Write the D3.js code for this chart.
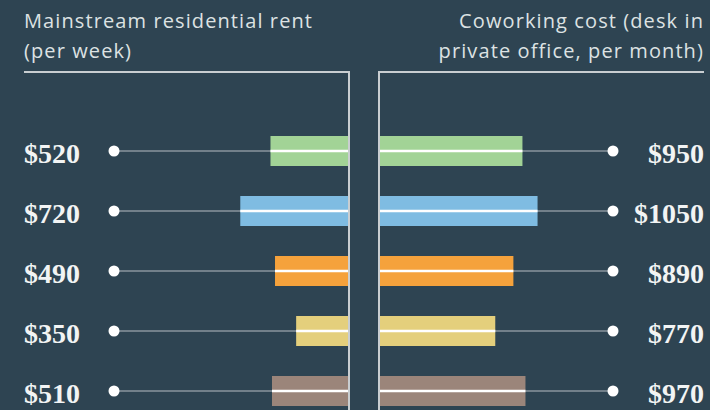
<!DOCTYPE html>
<html><head><meta charset="utf-8">
<script src="https://cdn.jsdelivr.net/npm/d3@7"></script>
<style>
html,body{margin:0;padding:0;background:#2e4452;}
svg{display:block;}
</style></head>
<body>
<svg id="chart" width="710" height="410"></svg>
<script>
const categories = ["Row 1","Row 2","Row 3","Row 4","Row 5"];
const rentValues = [520, 720, 490, 350, 510];
const coworkValues = [950, 1050, 890, 770, 970];
const barColors = ["#a2d396","#7fbce2","#f5a23c","#e4cf7c","#9b857a"];
const leftTitle = ["Mainstream residential rent","(per week)"];
const rightTitle = ["Coworking cost (desk in","private office, per month)"];

const W = 710, H = 410;
const svg = d3.select("#chart");
svg.append("rect").attr("width",W).attr("height",H).attr("fill","#2e4452");

const leftAxisX = 349, rightAxisX = 379;
const y = d3.scalePoint().domain(categories).range([151, 391]);
const len = d3.scaleLinear().domain([0, 1000]).range([0, 151]);
const barH = 30;
const textColor = "#dde2e3";
const lineColor = "#c9ced1";
const fmt = v => "$" + v;

// titles
const tFont = "'Open Sans', sans-serif";
svg.append("g").selectAll("text").data(leftTitle).join("text")
  .attr("x", 24).attr("y", (d,i)=> 28 + i*30)
  .attr("fill", textColor).attr("font-family", tFont).attr("font-size", 20)
  .attr("letter-spacing", 1.1)
  .text(d=>d);
svg.append("g").selectAll("text").data(rightTitle).join("text")
  .attr("x", 704).attr("y", (d,i)=> 28 + i*30).attr("text-anchor","end")
  .attr("fill", textColor).attr("font-family", tFont).attr("font-size", 20)
  .attr("letter-spacing", 1.1)
  .text(d=>d);

// brackets
svg.append("path").attr("d", `M24,72H${leftAxisX}V${H}`)
  .attr("fill","none").attr("stroke",lineColor).attr("stroke-width",2);
svg.append("path").attr("d", `M704,72H${rightAxisX}V${H}`)
  .attr("fill","none").attr("stroke",lineColor).attr("stroke-width",2);

const rows = categories.map((c,i)=>({c, rent: rentValues[i], cw: coworkValues[i], color: barColors[i]}));
const g = svg.append("g");

// connector thin lines
g.selectAll("line.lconn").data(rows).join("line").attr("class","lconn")
  .attr("x1",114).attr("x2",leftAxisX).attr("y1",d=>y(d.c)).attr("y2",d=>y(d.c))
  .attr("stroke","#ffffff").attr("stroke-opacity",0.65).attr("stroke-width",1.1);
g.selectAll("line.rconn").data(rows).join("line").attr("class","rconn")
  .attr("x1",rightAxisX).attr("x2",613).attr("y1",d=>y(d.c)).attr("y2",d=>y(d.c))
  .attr("stroke","#ffffff").attr("stroke-opacity",0.65).attr("stroke-width",1.1);

// bars
g.selectAll("rect.lbar").data(rows).join("rect").attr("class","lbar")
  .attr("x",d=>leftAxisX - len(d.rent)).attr("width",d=>len(d.rent))
  .attr("y",d=>y(d.c)-barH/2).attr("height",barH).attr("fill",d=>d.color);
g.selectAll("rect.rbar").data(rows).join("rect").attr("class","rbar")
  .attr("x",rightAxisX).attr("width",d=>len(d.cw))
  .attr("y",d=>y(d.c)-barH/2).attr("height",barH).attr("fill",d=>d.color);

// white lines inside bars
g.selectAll("line.lin").data(rows).join("line").attr("class","lin")
  .attr("x1",d=>leftAxisX - len(d.rent)).attr("x2",leftAxisX)
  .attr("y1",d=>y(d.c)).attr("y2",d=>y(d.c))
  .attr("stroke","#ffffff").attr("stroke-width",2.5);
g.selectAll("line.rin").data(rows).join("line").attr("class","rin")
  .attr("x1",rightAxisX).attr("x2",d=>rightAxisX + len(d.cw))
  .attr("y1",d=>y(d.c)).attr("y2",d=>y(d.c))
  .attr("stroke","#ffffff").attr("stroke-width",2.5);

// dots
g.selectAll("circle.ld").data(rows).join("circle").attr("class","ld")
  .attr("cx",114).attr("cy",d=>y(d.c)).attr("r",5.5).attr("fill","#ffffff");
g.selectAll("circle.rd").data(rows).join("circle").attr("class","rd")
  .attr("cx",613).attr("cy",d=>y(d.c)).attr("r",5.5).attr("fill","#ffffff");

// axis lines on top
svg.append("line").attr("x1",leftAxisX).attr("x2",leftAxisX).attr("y1",72).attr("y2",H)
  .attr("stroke",lineColor).attr("stroke-width",2);
svg.append("line").attr("x1",rightAxisX).attr("x2",rightAxisX).attr("y1",72).attr("y2",H)
  .attr("stroke",lineColor).attr("stroke-width",2);

// value labels
const vFont = "'Liberation Serif', 'DejaVu Serif', serif";
g.selectAll("text.lv").data(rows).join("text").attr("class","lv")
  .attr("x",24).attr("y",d=>y(d.c)+12)
  .attr("fill","#f2f4f4").attr("font-family",vFont).attr("font-weight","bold").attr("font-size",28)
  .text(d=>fmt(d.rent));
g.selectAll("text.rv").data(rows).join("text").attr("class","rv")
  .attr("x",704).attr("y",d=>y(d.c)+12).attr("text-anchor","end")
  .attr("fill","#f2f4f4").attr("font-family",vFont).attr("font-weight","bold").attr("font-size",28)
  .text(d=>fmt(d.cw));
</script>
</body></html>
